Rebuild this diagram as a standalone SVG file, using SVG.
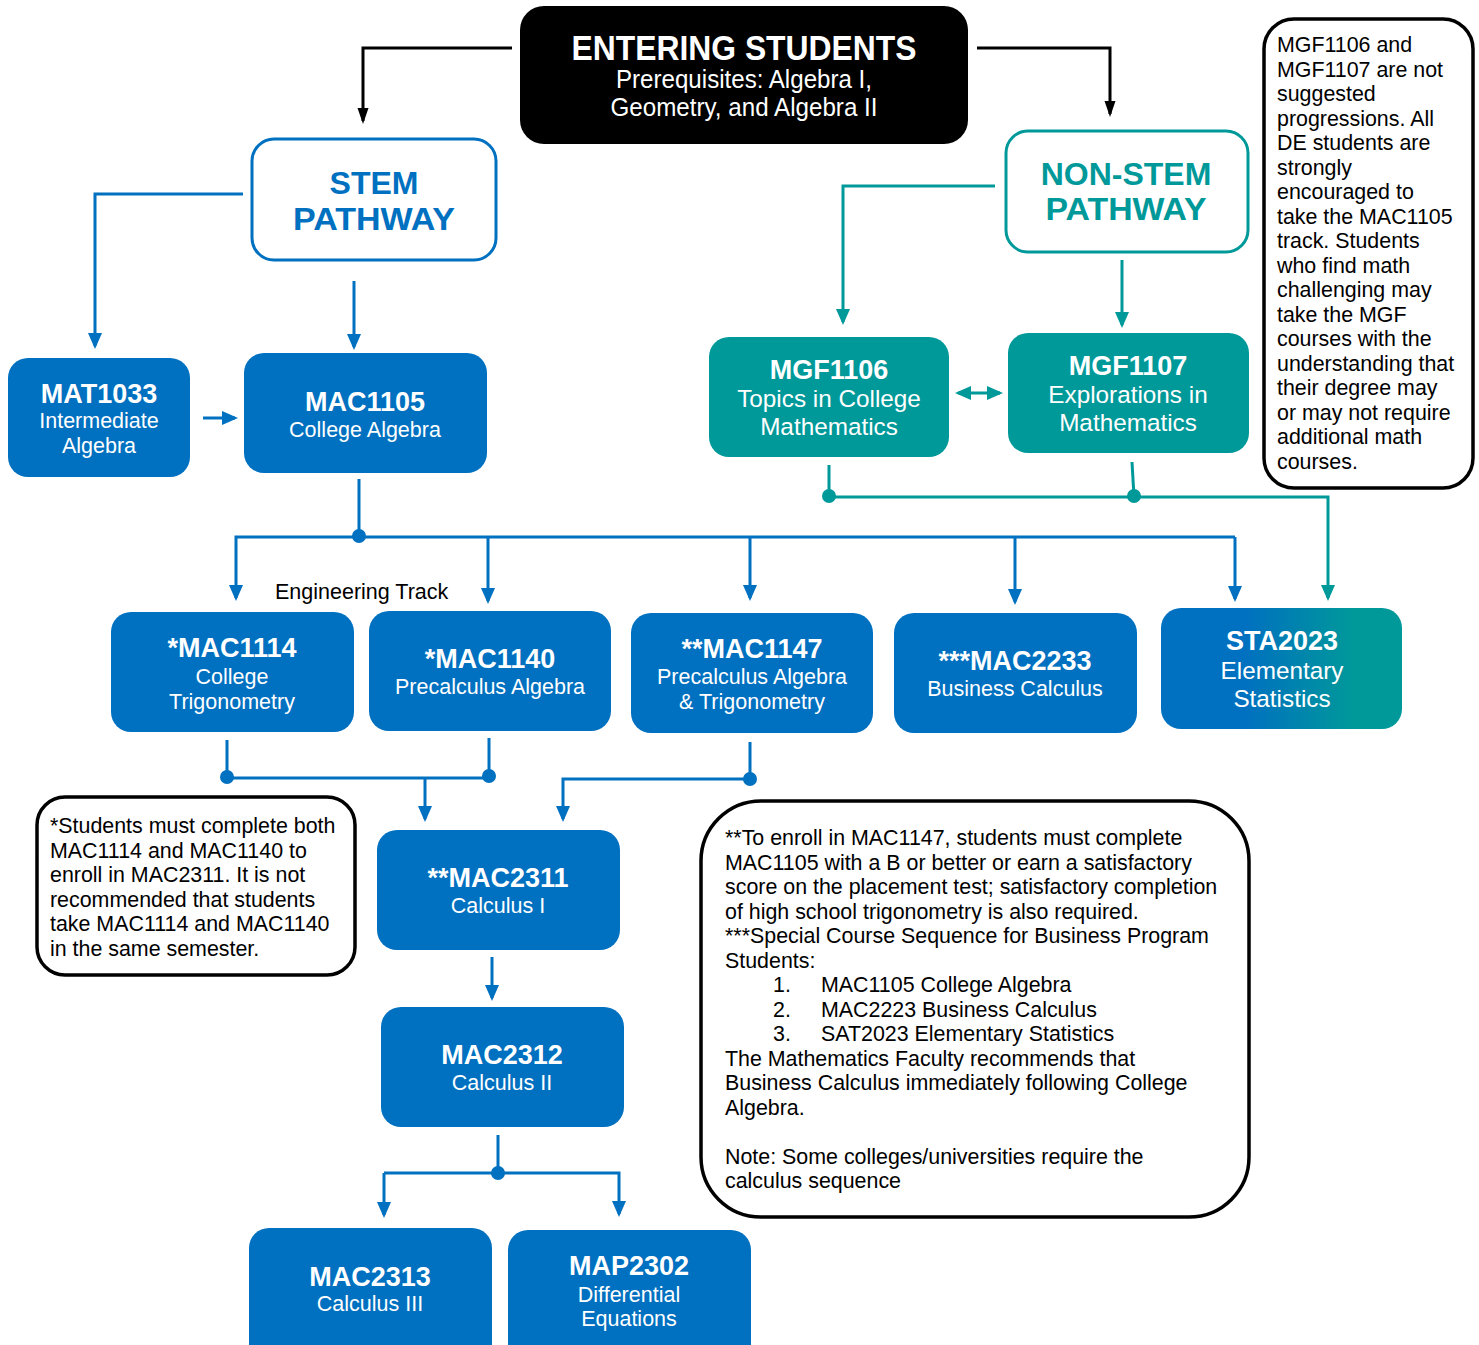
<svg xmlns="http://www.w3.org/2000/svg" width="1479" height="1345" viewBox="0 0 1479 1345">
<style>
text{font-family:"Liberation Sans",Arial,sans-serif}
.t{font-weight:bold;font-size:27px;fill:#fff;text-anchor:middle}
.s{font-size:21.5px;fill:#fff;text-anchor:middle}
.st{font-size:24.3px;fill:#fff;text-anchor:middle}
.pw{font-weight:bold;font-size:32px;text-anchor:middle}
.n{font-size:21.4px;fill:#000}
.blue{fill:#0070C0}
.teal{fill:#00999A}
.note{fill:#fff;stroke:#000;stroke-width:3.5}
.lb{fill:none;stroke:#0070C0;stroke-width:3}
.lt{fill:none;stroke:#00999A;stroke-width:3}
.lk{fill:none;stroke:#000;stroke-width:3}
</style>
<defs>
<linearGradient id="gst" x1="0" y1="0" x2="1" y2="0">
<stop offset="0" stop-color="#0070C0"/>
<stop offset="0.35" stop-color="#0070C0"/>
<stop offset="0.8" stop-color="#00999A"/>
<stop offset="1" stop-color="#00999A"/>
</linearGradient>
<marker id="ab" markerUnits="userSpaceOnUse" markerWidth="16" markerHeight="16" viewBox="0 0 16 16" refX="13" refY="8" orient="auto"><path d="M0,1 L16,8 L0,15 Z" fill="#0070C0"/></marker>
<marker id="at" markerUnits="userSpaceOnUse" markerWidth="16" markerHeight="16" viewBox="0 0 16 16" refX="13" refY="8" orient="auto-start-reverse"><path d="M0,1 L16,8 L0,15 Z" fill="#00999A"/></marker>
<marker id="ak" markerUnits="userSpaceOnUse" markerWidth="16" markerHeight="14" viewBox="0 0 16 14" refX="13" refY="7" orient="auto"><path d="M0,1.5 L16,7 L0,12.5 Z" fill="#000"/></marker>
</defs>

<g id="connectors">
<path class="lk" d="M512,48 H363 V121" marker-end="url(#ak)"/>
<path class="lk" d="M977,48 H1110 V114" marker-end="url(#ak)"/>
<path class="lb" d="M243,194 H95 V346" marker-end="url(#ab)"/>
<path class="lb" d="M354,281 V347" marker-end="url(#ab)"/>
<path class="lb" d="M203,418 H235" marker-end="url(#ab)"/>
<path class="lb" d="M359,479 V537"/>
<path class="lb" d="M1235,537 H236 V598" marker-end="url(#ab)"/>
<path class="lb" d="M1235,537 V599" marker-end="url(#ab)"/>
<path class="lb" d="M488,537 V601" marker-end="url(#ab)"/>
<path class="lb" d="M750,537 V598" marker-end="url(#ab)"/>
<path class="lb" d="M1015,537 V602" marker-end="url(#ab)"/>
<circle class="blue" cx="359" cy="536" r="7"/>
<path class="lt" d="M995,186 H843 V322" marker-end="url(#at)"/>
<path class="lt" d="M1122,260 V325" marker-end="url(#at)"/>
<path class="lt" d="M958,393 H1000" marker-start="url(#at)" marker-end="url(#at)"/>
<path class="lt" d="M829,465 V497"/>
<path class="lt" d="M1132,462 L1134,497"/>
<path class="lt" d="M829,497 H1328 V598" marker-end="url(#at)"/>
<circle class="teal" cx="829" cy="496" r="7"/>
<circle class="teal" cx="1134" cy="496" r="7"/>
<path class="lb" d="M227,740 V778 H489"/>
<path class="lb" d="M489,738 V778"/>
<path class="lb" d="M425,778 V819" marker-end="url(#ab)"/>
<circle class="blue" cx="227" cy="777" r="7"/>
<circle class="blue" cx="489" cy="776" r="7"/>
<path class="lb" d="M750,742 V779 H563 V819" marker-end="url(#ab)"/>
<circle class="blue" cx="750" cy="779" r="7"/>
<path class="lb" d="M492,957 V998" marker-end="url(#ab)"/>
<path class="lb" d="M498,1135 V1173"/>
<path class="lb" d="M384,1173 H619 V1214" marker-end="url(#ab)"/>
<path class="lb" d="M384,1173 V1215" marker-end="url(#ab)"/>
<circle class="blue" cx="498" cy="1173" r="7"/>
</g>

<g id="entering">
<rect x="520" y="6" width="448" height="138" rx="24" fill="#000"/>
<text x="744" y="60" text-anchor="middle" font-weight="bold" font-size="35" fill="#fff" textLength="345" lengthAdjust="spacingAndGlyphs">ENTERING STUDENTS</text>
<text x="744" y="88" text-anchor="middle" font-size="25" fill="#fff" textLength="256" lengthAdjust="spacingAndGlyphs">Prerequisites: Algebra I,</text>
<text x="744" y="116" text-anchor="middle" font-size="25" fill="#fff" textLength="267" lengthAdjust="spacingAndGlyphs">Geometry, and Algebra II</text>
</g>

<g id="stem">
<rect x="252" y="139" width="244" height="121" rx="22" fill="#fff" stroke="#0070C0" stroke-width="3"/>
<text class="pw blue" x="374" y="194" font-size="33">STEM</text>
<text class="pw blue" x="374" y="230" font-size="33" textLength="162" lengthAdjust="spacingAndGlyphs">PATHWAY</text>
</g>

<g id="nonstem">
<rect x="1006" y="131" width="242" height="121" rx="22" fill="#fff" stroke="#00999A" stroke-width="3"/>
<text class="pw teal" x="1126" y="185">NON-STEM</text>
<text class="pw teal" x="1126" y="220" textLength="161" lengthAdjust="spacingAndGlyphs">PATHWAY</text>
</g>

<g id="note-mgf">
<rect class="note" x="1264" y="19" width="209" height="469" rx="30"/>
<text class="n" x="1277" y="52">MGF1106 and</text>
<text class="n" x="1277" y="76.5">MGF1107 are not</text>
<text class="n" x="1277" y="101">suggested</text>
<text class="n" x="1277" y="125.5">progressions. All</text>
<text class="n" x="1277" y="150">DE students are</text>
<text class="n" x="1277" y="174.5">strongly</text>
<text class="n" x="1277" y="199">encouraged to</text>
<text class="n" x="1277" y="223.5">take the MAC1105</text>
<text class="n" x="1277" y="248">track. Students</text>
<text class="n" x="1277" y="272.5">who find math</text>
<text class="n" x="1277" y="297">challenging may</text>
<text class="n" x="1277" y="321.5">take the MGF</text>
<text class="n" x="1277" y="346">courses with the</text>
<text class="n" x="1277" y="370.5">understanding that</text>
<text class="n" x="1277" y="395">their degree may</text>
<text class="n" x="1277" y="419.5">or may not require</text>
<text class="n" x="1277" y="444">additional math</text>
<text class="n" x="1277" y="468.5">courses.</text>
</g>

<g id="mat1033">
<rect class="blue" x="8" y="358" width="182" height="119" rx="20"/>
<text class="t" x="99" y="403">MAT1033</text>
<text class="s" x="99" y="428">Intermediate</text>
<text class="s" x="99" y="453">Algebra</text>
</g>

<g id="mac1105">
<rect class="blue" x="244" y="353" width="243" height="120" rx="20"/>
<text class="t" x="365" y="411">MAC1105</text>
<text class="s" x="365" y="437">College Algebra</text>
</g>

<g id="mgf1106">
<rect class="teal" x="709" y="337" width="240" height="120" rx="20"/>
<text class="t" x="829" y="379">MGF1106</text>
<text class="st" x="829" y="407">Topics in College</text>
<text class="st" x="829" y="435">Mathematics</text>
</g>

<g id="mgf1107">
<rect class="teal" x="1008" y="333" width="241" height="120" rx="20"/>
<text class="t" x="1128" y="375">MGF1107</text>
<text class="st" x="1128" y="403">Explorations in</text>
<text class="st" x="1128" y="431">Mathematics</text>
</g>

<text x="275" y="599" font-size="21.5" fill="#000">Engineering Track</text>

<g id="mac1114">
<rect class="blue" x="111" y="612" width="243" height="120" rx="20"/>
<text class="t" x="232" y="657">*MAC1114</text>
<text class="s" x="232" y="684">College</text>
<text class="s" x="232" y="709">Trigonometry</text>
</g>

<g id="mac1140">
<rect class="blue" x="369" y="611" width="242" height="120" rx="20"/>
<text class="t" x="490" y="668">*MAC1140</text>
<text class="s" x="490" y="694">Precalculus Algebra</text>
</g>

<g id="mac1147">
<rect class="blue" x="631" y="613" width="242" height="120" rx="20"/>
<text class="t" x="752" y="658">**MAC1147</text>
<text class="s" x="752" y="684">Precalculus Algebra</text>
<text class="s" x="752" y="709">&amp; Trigonometry</text>
</g>

<g id="mac2233">
<rect class="blue" x="894" y="613" width="243" height="120" rx="20"/>
<text class="t" x="1015" y="670">***MAC2233</text>
<text class="s" x="1015" y="696">Business Calculus</text>
</g>

<g id="sta2023">
<rect x="1161" y="608" width="241" height="121" rx="20" fill="url(#gst)"/>
<text class="t" x="1282" y="650">STA2023</text>
<text class="st" x="1282" y="679" font-size="23.8">Elementary</text>
<text class="st" x="1282" y="707" font-size="23.8">Statistics</text>
</g>

<g id="note-eng">
<rect class="note" x="37" y="797" width="318" height="178" rx="28"/>
<text class="n" x="50" y="833">*Students must complete both</text>
<text class="n" x="50" y="857.5">MAC1114 and MAC1140 to</text>
<text class="n" x="50" y="882">enroll in MAC2311. It is not</text>
<text class="n" x="50" y="906.5">recommended that students</text>
<text class="n" x="50" y="931">take MAC1114 and MAC1140</text>
<text class="n" x="50" y="955.5">in the same semester.</text>
</g>

<g id="mac2311">
<rect class="blue" x="377" y="830" width="243" height="120" rx="20"/>
<text class="t" x="498" y="887">**MAC2311</text>
<text class="s" x="498" y="913">Calculus I</text>
</g>

<g id="note-bus">
<rect class="note" x="701" y="801" width="548" height="416" rx="60"/>
<text class="n" x="725" y="845">**To enroll in MAC1147, students must complete</text>
<text class="n" x="725" y="869.5">MAC1105 with a B or better or earn a satisfactory</text>
<text class="n" x="725" y="894">score on the placement test; satisfactory completion</text>
<text class="n" x="725" y="918.5">of high school trigonometry is also required.</text>
<text class="n" x="725" y="943">***Special Course Sequence for Business Program</text>
<text class="n" x="725" y="967.5">Students:</text>
<text class="n" x="773" y="992">1.</text><text class="n" x="821" y="992">MAC1105 College Algebra</text>
<text class="n" x="773" y="1016.5">2.</text><text class="n" x="821" y="1016.5">MAC2223 Business Calculus</text>
<text class="n" x="773" y="1041">3.</text><text class="n" x="821" y="1041">SAT2023 Elementary Statistics</text>
<text class="n" x="725" y="1065.5">The Mathematics Faculty recommends that</text>
<text class="n" x="725" y="1090">Business Calculus immediately following College</text>
<text class="n" x="725" y="1114.5">Algebra.</text>
<text class="n" x="725" y="1163.5">Note: Some colleges/universities require the</text>
<text class="n" x="725" y="1188">calculus sequence</text>
</g>

<g id="mac2312">
<rect class="blue" x="381" y="1007" width="243" height="120" rx="20"/>
<text class="t" x="502" y="1064">MAC2312</text>
<text class="s" x="502" y="1090">Calculus II</text>
</g>

<g id="mac2313">
<rect class="blue" x="249" y="1228" width="243" height="140" rx="20"/>
<text class="t" x="370" y="1286">MAC2313</text>
<text class="s" x="370" y="1311">Calculus III</text>
</g>

<g id="map2302">
<rect class="blue" x="508" y="1230" width="243" height="140" rx="20"/>
<text class="t" x="629" y="1275">MAP2302</text>
<text class="s" x="629" y="1302">Differential</text>
<text class="s" x="629" y="1326">Equations</text>
</g>
</svg>
